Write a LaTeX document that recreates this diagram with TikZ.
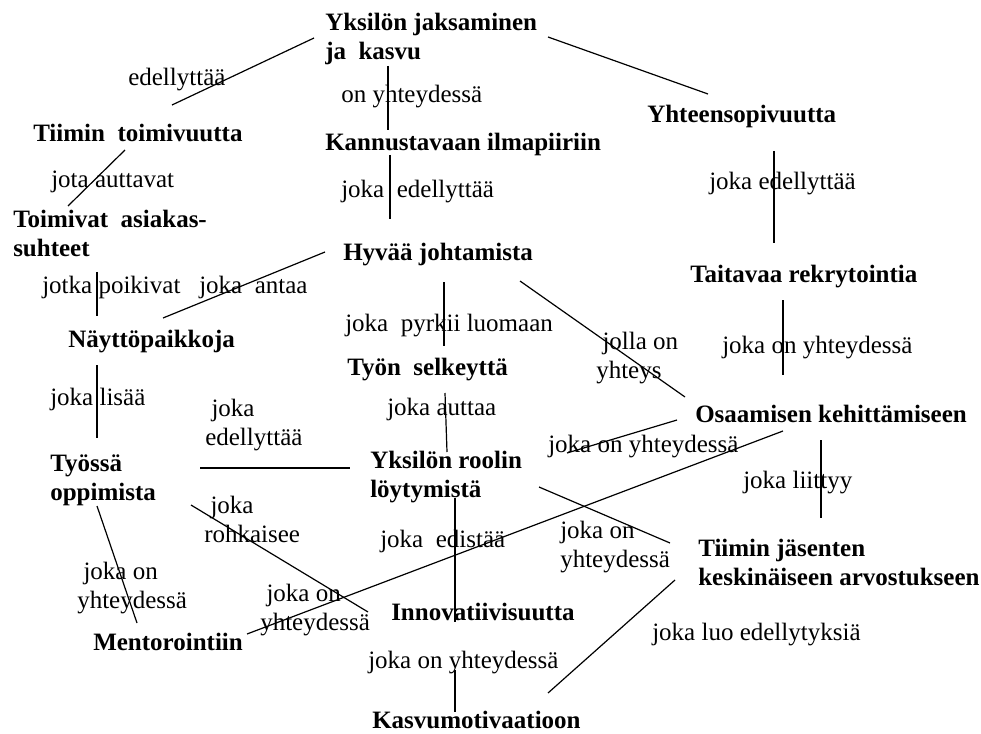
\documentclass[tikz,border=0pt]{standalone}
\usepackage{fontspec}
\setmainfont{Liberation Serif}
\begin{document}
\begin{tikzpicture}[x=0.75pt,y=-0.75pt,
  concept/.style={anchor=base west,inner sep=0pt,align=left,
    font=\fontsize{18.75}{21.75}\selectfont\bfseries},
  relation/.style={anchor=base west,inner sep=0pt,align=left,
    font=\fontsize{18.75}{21.75}\selectfont},
  link/.style={line width=0.9pt}]
\useasboundingbox (0,0) rectangle (981,734);

% concepts (two-line labels are placed by the baseline of their last line)
\node[concept] (yksilo) at (325,60) {Yksilön jaksaminen\\ja\ \ kasvu};
\node[concept] (tiimi) at (33,142) {Tiimin\ \ toimivuutta};
\node[concept] (kannustava) at (325,151) {Kannustavaan ilmapiiriin};
\node[concept] (yhteenso) at (647,123) {Yhteensopivuutta};
\node[concept] (asiakas) at (13,257) {Toimivat\ \ asiakas-\\suhteet};
\node[concept] (johtaminen) at (343,261) {Hyvää johtamista};
\node[concept] (rekry) at (690,282) {Taitavaa rekrytointia};
\node[concept] (naytto) at (68,347) {Näyttöpaikkoja};
\node[concept] (selkeys) at (347,375) {Työn\ \ selkeyttä};
\node[concept] (osaaminen) at (695,422) {Osaamisen kehittämiseen};
\node[concept] (oppiminen) at (50,500) {Työssä\\oppimista};
\node[concept] (rooli) at (370,497) {Yksilön roolin\\löytymistä};
\node[concept] (arvostus) at (698,585) {Tiimin jäsenten\\keskinäiseen arvostukseen};
\node[concept] (innovatiivisuus) at (391,620) {Innovatiivisuutta};
\node[concept] (mentorointi) at (93,650) {Mentorointiin};
\node[concept] (kasvumotivaatio) at (372,728) {Kasvumotivaatioon};

% relation labels
\node[relation] (r-edellyttaa) at (128,86) {edellyttää};
\node[relation] (r-onyht) at (341,103) {on yhteydessä};
\node[relation] (r-jota) at (51,188) {jota auttavat};
\node[relation] (r-jokaed1) at (341,198) {joka\ \ edellyttää};
\node[relation] (r-jokaed2) at (709,190) {joka edellyttää};
\node[relation] (r-poikivat) at (42,293) {jotka poikivat};
\node[relation] (r-antaa) at (199,293) {joka\ \ antaa};
\node[relation] (r-pyrkii) at (345,331) {joka\ \ pyrkii luomaan};
\node[relation] (r-jolla) at (596,378) {\ jolla on\\yhteys};
\node[relation] (r-rekryyht) at (722,353) {joka on yhteydessä};
\node[relation] (r-lisaa) at (50,405) {joka lisää};
\node[relation] (r-jokaed3) at (205,445) {\ joka\\edellyttää};
\node[relation] (r-auttaa) at (387,415) {joka auttaa};
\node[relation] (r-osayht) at (548,452) {joka on yhteydessä};
\node[relation] (r-liittyy) at (743,488) {joka liittyy};
\node[relation] (r-rohkaisee) at (204,542) {\ joka\\rohkaisee};
\node[relation] (r-edistaa) at (380,547) {joka\ \ edistää};
\node[relation] (r-rooliyht) at (560,567) {joka on\\yhteydessä};
\node[relation] (r-mentyht) at (77,608) {\ joka on\\yhteydessä};
\node[relation] (r-mentyht2) at (260,630) {\ joka on\\yhteydessä};
\node[relation] (r-luo) at (652,640) {joka luo edellytyksiä};
\node[relation] (r-kasvuyht) at (368,668) {joka on yhteydessä};

% connector end points
\coordinate (yksilo-w) at (314,38);   \coordinate (tiimi-ne) at (172,105);
\coordinate (yksilo-s) at (388,66);   \coordinate (kannustava-n) at (388,130);
\coordinate (kannustava-s) at (390,155); \coordinate (johtaminen-n) at (390,219);
\coordinate (yksilo-e) at (548,37);   \coordinate (yhteenso-n) at (708,94);
\coordinate (yhteenso-s) at (774,151); \coordinate (rekry-n) at (774,243);
\coordinate (tiimi-s) at (125,150);   \coordinate (asiakas-n) at (68,206);
\coordinate (asiakas-s) at (97,272);  \coordinate (naytto-n) at (97,316);
\coordinate (johtaminen-w) at (325,252); \coordinate (naytto-ne) at (163,318);
\coordinate (johtaminen-s) at (444,282); \coordinate (selkeys-n) at (444,346);
\coordinate (naytto-s) at (97,365);   \coordinate (oppiminen-n) at (97,438);
\coordinate (oppiminen-e) at (200,468); \coordinate (rooli-w) at (350,468);
\coordinate (selkeys-s) at (445,393); \coordinate (rooli-n) at (447,452);
\coordinate (johtaminen-se) at (520,281); \coordinate (osaaminen-nw) at (685,397);
\coordinate (rekry-s) at (783,300);   \coordinate (osaaminen-n) at (783,375);
\coordinate (osaaminen-w) at (677,420); \coordinate (rooli-ne) at (567,453);
\coordinate (osaaminen-sw) at (783,431); \coordinate (mentorointi-e) at (247,634);
\coordinate (osaaminen-s) at (821,440); \coordinate (arvostus-n) at (821,518);
\coordinate (rooli-e) at (539,487);   \coordinate (arvostus-nw) at (670,543);
\coordinate (oppiminen-s) at (97,506); \coordinate (mentorointi-n) at (137,623);
\coordinate (oppiminen-se) at (191,505); \coordinate (innovatiivisuus-nw) at (368,612);
\coordinate (rooli-s) at (455,498);   \coordinate (innovatiivisuus-n) at (455,622);
\coordinate (arvostus-sw) at (675,580); \coordinate (kasvumotivaatio-ne) at (548,693);
\coordinate (innovatiivisuus-s) at (455,670); \coordinate (kasvumotivaatio-n) at (455,712);

% connectors
\draw[link] (yksilo-w) -- (tiimi-ne);
\draw[link] (yksilo-s) -- (kannustava-n);
\draw[link] (kannustava-s) -- (johtaminen-n);
\draw[link] (yksilo-e) -- (yhteenso-n);
\draw[link] (yhteenso-s) -- (rekry-n);
\draw[link] (tiimi-s) -- (asiakas-n);
\draw[link] (asiakas-s) -- (naytto-n);
\draw[link] (johtaminen-w) -- (naytto-ne);
\draw[link] (johtaminen-s) -- (selkeys-n);
\draw[link] (naytto-s) -- (oppiminen-n);
\draw[link] (oppiminen-e) -- (rooli-w);
\draw[link] (selkeys-s) -- (rooli-n);
\draw[link] (johtaminen-se) -- (osaaminen-nw);
\draw[link] (rekry-s) -- (osaaminen-n);
\draw[link] (osaaminen-w) -- (rooli-ne);
\draw[link] (osaaminen-sw) -- (mentorointi-e);
\draw[link] (osaaminen-s) -- (arvostus-n);
\draw[link] (rooli-e) -- (arvostus-nw);
\draw[link] (oppiminen-s) -- (mentorointi-n);
\draw[link] (oppiminen-se) -- (innovatiivisuus-nw);
\draw[link] (rooli-s) -- (innovatiivisuus-n);
\draw[link] (arvostus-sw) -- (kasvumotivaatio-ne);
\draw[link] (innovatiivisuus-s) -- (kasvumotivaatio-n);
\end{tikzpicture}
\end{document}
